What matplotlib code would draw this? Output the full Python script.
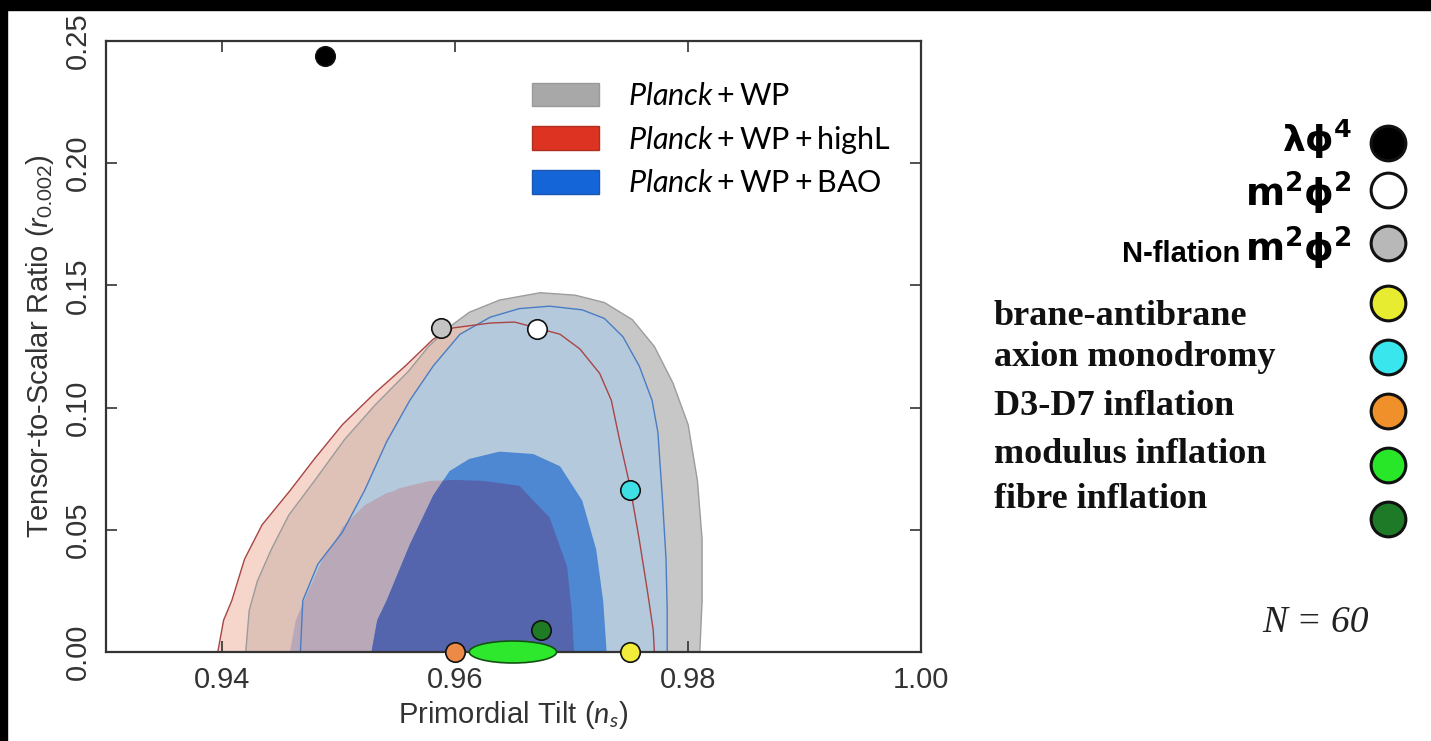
import matplotlib
matplotlib.use("Agg")
import matplotlib.pyplot as plt
from matplotlib.patches import Polygon, Ellipse, Patch, Rectangle
import numpy as np

plt.rcParams["font.family"] = ["Liberation Sans", "DejaVu Sans"]
plt.rcParams["mathtext.fontset"] = "custom"
plt.rcParams["mathtext.rm"] = "Lato"
plt.rcParams["mathtext.it"] = "Lato:italic"
plt.rcParams["mathtext.bf"] = "DejaVu Sans:bold"

# --- confidence contours (n_s, r) ---
red95_ns = [0.9396, 0.9401, 0.9408, 0.9419, 0.9434, 0.9458, 0.9479, 0.9503, 0.9531, 0.9557,
            0.9581, 0.9598, 0.9630, 0.9651, 0.9670, 0.9690, 0.9707, 0.9724, 0.9734, 0.9741,
            0.9750, 0.9758, 0.9765, 0.9770, 0.9771]
red95_r = [0.000, 0.013, 0.021, 0.038, 0.052, 0.066, 0.079, 0.093, 0.106, 0.117,
           0.128, 0.1326, 0.1346, 0.135, 0.1326, 0.130, 0.124, 0.114, 0.103, 0.087,
           0.068, 0.046, 0.025, 0.009, 0.000]

grey95_ns = [0.9420, 0.9423, 0.9430, 0.9442, 0.9457, 0.9479, 0.9505, 0.9531, 0.9560, 0.9577,
             0.9595, 0.9612, 0.9638, 0.9673, 0.9703, 0.9728, 0.9752, 0.9771, 0.9787, 0.9800,
             0.9808, 0.9812, 0.9812, 0.9810]
grey95_r = [0.000, 0.017, 0.029, 0.042, 0.056, 0.070, 0.087, 0.101, 0.115, 0.125,
            0.133, 0.139, 0.144, 0.147, 0.146, 0.143, 0.136, 0.125, 0.110, 0.093,
            0.070, 0.046, 0.021, 0.000]

blue95_ns = [0.9467, 0.9469, 0.9482, 0.9503, 0.9522, 0.9541, 0.9561, 0.9581, 0.9604, 0.9630,
             0.9655, 0.9681, 0.9709, 0.9728, 0.9744, 0.9758, 0.9769, 0.9774, 0.9778, 0.9781,
             0.9782, 0.9782]
blue95_r = [0.000, 0.021, 0.036, 0.049, 0.066, 0.086, 0.103, 0.117, 0.130, 0.137,
            0.1405, 0.1415, 0.140, 0.1365, 0.129, 0.117, 0.103, 0.090, 0.062, 0.038,
            0.017, 0.000]

grey68_ns = [0.9462, 0.9467, 0.9475, 0.9488, 0.9503, 0.9522, 0.9541, 0.9581, 0.9600, 0.9624,
             0.9655, 0.9681, 0.9696, 0.9700, 0.9702]
grey68_r = [0.000, 0.011, 0.021, 0.036, 0.051, 0.060, 0.065, 0.070, 0.0704, 0.070,
            0.068, 0.055, 0.035, 0.017, 0.000]

red68_ns = [0.9458, 0.9463, 0.9472, 0.9486, 0.9505, 0.9527, 0.9552, 0.9578, 0.9600, 0.9621,
            0.9642, 0.9664, 0.9679, 0.9686, 0.9688]
red68_r = [0.000, 0.013, 0.023, 0.038, 0.051, 0.061, 0.067, 0.070, 0.070, 0.068,
           0.062, 0.050, 0.032, 0.013, 0.000]

blue68_ns = [0.9528, 0.9533, 0.9541, 0.9561, 0.9581, 0.9595, 0.9612, 0.9638, 0.9667, 0.9690,
             0.9709, 0.9721, 0.9727, 0.9730]
blue68_r = [0.000, 0.013, 0.021, 0.044, 0.064, 0.074, 0.079, 0.082, 0.081, 0.076,
            0.062, 0.042, 0.021, 0.000]

legend_labels = [r"$\mathit{Planck}+\mathrm{WP}$",
                 r"$\mathit{Planck}+\mathrm{WP}+\mathrm{highL}$",
                 r"$\mathit{Planck}+\mathrm{WP}+\mathrm{BAO}$"]

# --- inflation model predictions for N = 60 ---
model_names = ["lphi4", "m2phi2", "nflation", "brane", "axion", "d3d7", "fibre"]
model_ns = [0.9488, 0.9670, 0.9588, 0.9750, 0.9750, 0.9600, 0.9674]
model_r = [0.244, 0.132, 0.1326, 0.0, 0.0663, 0.0, 0.009]
model_colors = ["#000000", "#ffffff", "#c4c4c4", "#f2ec3a", "#3ee0e6", "#ee8a48", "#1f7a24"]

modulus_ns = (0.9612, 0.9687)   # extent of the modulus inflation band
modulus_r = 0.0

key_labels = ["brane-antibrane", "axion monodromy", "D3-D7 inflation",
              "modulus inflation", "fibre inflation"]
key_colors = ["#000000", "#ffffff", "#b8b8b8", "#e8ec30", "#3ae6ee", "#f0902a",
              "#28e628", "#1e7a26"]

W, H = 1431, 741
fig = plt.figure(figsize=(W / 100, H / 100), dpi=100)
ax = fig.add_axes([106 / W, 1 - 652 / H, (921 - 106) / W, (652 - 41) / H])


def poly(ns, r, **kw):
    p = Polygon(np.column_stack([ns, r]), closed=True, **kw)
    ax.add_patch(p)
    return p


red95 = poly(red95_ns, red95_r, facecolor="#f6d5cb", edgecolor="none", zorder=1)
poly(grey95_ns, grey95_r, facecolor="#c7c7c7", edgecolor="none", zorder=1.2)
tan = poly(grey95_ns, grey95_r, facecolor="#dfc2b7", edgecolor="none", zorder=1.4)
tan.set_clip_path(red95)
poly(blue95_ns, blue95_r, facecolor="#b4cadc", edgecolor="none", zorder=2)
grey68 = poly(grey68_ns, grey68_r, facecolor="#b8a8b8", edgecolor="none", zorder=3)
poly(red68_ns, red68_r, facecolor="#b8a8b8", edgecolor="none", zorder=3)
poly(blue68_ns, blue68_r, facecolor="#4e88d2", edgecolor="none", zorder=4)
slate = poly(blue68_ns, blue68_r, facecolor="#5465ad", edgecolor="none", zorder=5)
slate.set_clip_path(grey68)

# outlines
poly(grey95_ns, grey95_r, facecolor="none", edgecolor="#9c9c9c", lw=1.0, zorder=6)
poly(blue95_ns, blue95_r, facecolor="none", edgecolor="#4a7cc4", lw=1.0, zorder=6)
poly(red95_ns, red95_r, facecolor="none", edgecolor="#a84545", lw=1.0, zorder=6.5)

# model points
for ns, r, c in zip(model_ns, model_r, model_colors):
    ax.plot(ns, r, "o", ms=14, mfc=c, mec="#111111", mew=1.2, clip_on=False, zorder=10)
ax.add_patch(Ellipse(((modulus_ns[0] + modulus_ns[1]) / 2, modulus_r),
                     modulus_ns[1] - modulus_ns[0], 0.009, facecolor="#2ee82e",
                     edgecolor="#145214", lw=1.2, clip_on=False, zorder=9))

ax.set_xlim(0.93, 1.00)
ax.set_ylim(0.0, 0.25)
ax.set_xticks([0.94, 0.96, 0.98, 1.00])
ax.set_xticklabels(["0.94", "0.96", "0.98", "1.00"])
ax.set_yticks([0.00, 0.05, 0.10, 0.15, 0.20, 0.25])
ax.set_yticklabels(["0.00", "0.05", "0.10", "0.15", "0.20", "0.25"], rotation=90, va="center")
ax.tick_params(direction="in", length=8, width=1.2, top=True, right=True,
               labelsize=21, colors="#333333", pad=10)
for s in ax.spines.values():
    s.set_linewidth(1.6)
    s.set_color("#333333")
    s.set_zorder(8)
ax.set_xlabel("Primordial Tilt ($n_s$)", fontsize=21, color="#333333", labelpad=4)
ax.set_ylabel("Tensor-to-Scalar Ratio ($r_{0.002}$)", fontsize=21, color="#333333", labelpad=6)

handles = [Patch(facecolor="#a8a8a8", edgecolor="#999999"),
           Patch(facecolor="#dd3322", edgecolor="#b03020"),
           Patch(facecolor="#1466d8", edgecolor="#1a55b0")]
ax.legend(handles, legend_labels, loc="upper left", bbox_to_anchor=(532 / W, 1 - 82 / H),
          bbox_transform=fig.transFigure, frameon=False, borderpad=0, borderaxespad=0,
          handlelength=2.2, handleheight=0.8, handletextpad=0.95, labelspacing=0.45,
          prop={"family": "Lato", "size": 22})

# overlay for the model key on the right
key = fig.add_axes([0, 0, 1, 1], facecolor="none", zorder=5)
key.set_xlim(0, W)
key.set_ylim(H, 0)
key.axis("off")
key.add_patch(Rectangle((0, 0), W, 10, color="black"))
key.add_patch(Rectangle((0, 0), 7, H, color="black"))

key_y = [143, 190, 243] + [303 + 54 * i for i in range(5)]
for y, c in zip(key_y, key_colors):
    key.plot(1388, y, "o", ms=25, mfc=c, mec="#111111", mew=2.2)

key.text(1352, 152, r"$\mathbf{\lambda\phi^4}$", ha="right", va="baseline", fontsize=26)
key.text(1352, 207, r"$\mathbf{m^2\phi^2}$", ha="right", va="baseline", fontsize=27)
key.text(1352, 262, r"$\mathbf{m^2\phi^2}$", ha="right", va="baseline", fontsize=27)
key.text(1240, 262, "N-flation", ha="right", va="baseline", fontsize=21, weight="bold",
         family="Liberation Sans")

text_base = [325, 366, 415, 463, 508]
for y, lab in zip(text_base, key_labels):
    key.text(994, y, lab, ha="left", va="baseline", fontsize=26, weight="bold",
             family="Liberation Serif", color="#111111")

key.text(1262, 632, "N = 60", ha="left", va="baseline", fontsize=27, style="italic",
         family="Liberation Serif", color="#222222")

fig.savefig("out.png", dpi=100, facecolor="white")
